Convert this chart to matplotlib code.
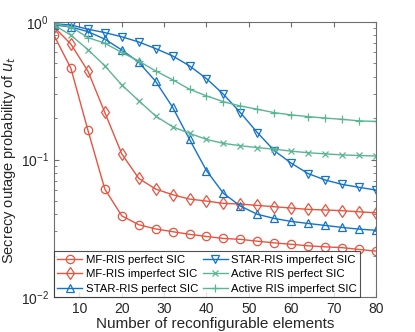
import numpy as np
import matplotlib
matplotlib.use('Agg')
import matplotlib.pyplot as plt
from matplotlib.ticker import LogLocator, NullFormatter

# number of reconfigurable elements
n_elem = list(range(4, 81, 4))

mf_perfect = [0.80, 0.46, 0.164, 0.061, 0.039, 0.0336, 0.0313, 0.0299, 0.0286, 0.0276,
              0.0267, 0.0263, 0.0255, 0.0248, 0.0242, 0.0236, 0.0232, 0.0229, 0.0222, 0.0216]
mf_imperfect = [0.92, 0.69, 0.44, 0.22, 0.11, 0.073, 0.061, 0.0555, 0.0516, 0.0499,
                0.048, 0.0475, 0.0464, 0.0454, 0.0444, 0.0434, 0.043, 0.0425, 0.0417, 0.041]
star_perfect = [0.95, 0.92, 0.85, 0.75, 0.625, 0.51, 0.37, 0.24, 0.14, 0.083,
                0.0568, 0.0459, 0.040, 0.0373, 0.0355, 0.0343, 0.0332, 0.0321, 0.0312, 0.0306]
star_imperfect = [0.97, 0.95, 0.885, 0.836, 0.78, 0.715, 0.64, 0.566, 0.479, 0.387,
                  0.298, 0.219, 0.157, 0.116, 0.094, 0.079, 0.071, 0.066, 0.0628, 0.060]
active_perfect = [0.95, 0.80, 0.63, 0.48, 0.348, 0.268, 0.207, 0.173, 0.155, 0.14,
                  0.131, 0.126, 0.122, 0.119, 0.115, 0.112, 0.110, 0.108, 0.107, 0.106]
active_imperfect = [0.97, 0.92, 0.77, 0.70, 0.60, 0.52, 0.44, 0.38, 0.324, 0.29,
                    0.263, 0.245, 0.232, 0.219, 0.211, 0.205, 0.200, 0.196, 0.191, 0.189]

red, blue, green = '#E8543F', '#1273C9', '#5BB593'
axis_col = '#6e6e6e'

plt.rcParams['font.family'] = 'Liberation Sans'

fig = plt.figure(figsize=(4.15, 3.32), dpi=100)
ax = fig.add_axes([0.130, 0.105, 0.776, 0.829])

kw = dict(lw=1.0, ms=6, mfc='none', mew=0.9)
ax.plot(n_elem, mf_perfect, color=red, marker='o', label='MF-RIS perfect SIC', **kw)
ax.plot(n_elem, mf_imperfect, color=red, marker='d', label='MF-RIS imperfect SIC', **kw)
ax.plot(n_elem, star_perfect, color=blue, marker='^', label='STAR-RIS perfect SIC', **kw)
ax.plot(n_elem, star_imperfect, color=blue, marker='v', label='STAR-RIS imperfect SIC', **kw)
ax.plot(n_elem, active_perfect, color=green, marker='x', label='Active RIS perfect SIC', lw=1.0, ms=4, mew=0.9)
ax.plot(n_elem, active_imperfect, color=green, marker='+', label='Active RIS imperfect SIC', lw=1.0, ms=6, mew=0.9)

ax.set_yscale('log')
ax.set_xlim(4, 80)
ax.set_ylim(0.01, 1)
ax.set_xticks(range(10, 81, 10))
ax.yaxis.set_major_locator(LogLocator(base=10, numticks=5))
ax.yaxis.set_minor_locator(LogLocator(base=10, subs=np.arange(2, 10), numticks=20))
ax.yaxis.set_minor_formatter(NullFormatter())

for s in ax.spines.values():
    s.set_color(axis_col)
    s.set_linewidth(0.8)
ax.tick_params(which='both', direction='in', top=True, right=True, color=axis_col,
               labelsize=10, labelcolor='#262626')
ax.tick_params(which='major', length=3.5)
ax.tick_params(which='minor', length=2)

ax.set_xlabel('Number of reconfigurable elements', fontsize=11, color='#262626', labelpad=1)
ax.set_ylabel('Secrecy outage probability of $u_t$', fontsize=10.5, color='#262626', labelpad=2)

leg = ax.legend(loc='lower left', ncol=2, fontsize=8.2, frameon=True, fancybox=False,
                borderaxespad=0, handlelength=2.2, handletextpad=0.3, columnspacing=0.4,
                labelspacing=0.4, borderpad=0.3, bbox_to_anchor=(0.0, 0.0))
leg.get_frame().set_edgecolor('#262626')
leg.get_frame().set_linewidth(0.8)

fig.savefig('out.png', dpi=100)
